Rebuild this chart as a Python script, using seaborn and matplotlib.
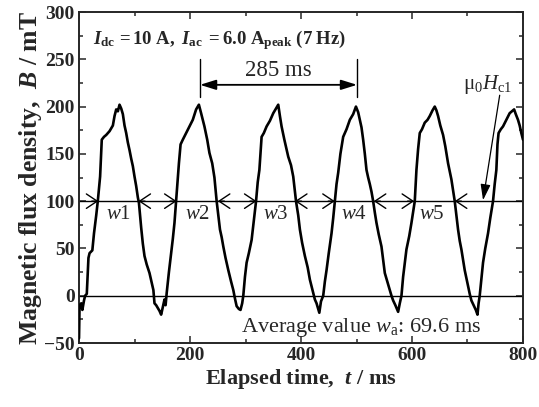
import numpy as np
import pandas as pd
import matplotlib
matplotlib.use("Agg")
import matplotlib.pyplot as plt
import seaborn as sns
from matplotlib.ticker import MultipleLocator

# --- waveform (t in ms, B in mT) ---
t_ms = [0, 1, 4, 6, 9, 11, 14, 17, 19, 24, 27, 31, 34, 38, 41, 45, 49, 55, 61, 64, 67, 70, 73, 76, 79,
        82, 85, 88, 91, 94, 97, 100, 103, 106, 108, 112, 115, 118, 122, 127, 131, 134, 136, 139, 142,
        145, 148, 151, 154, 156, 158, 162, 166, 169, 172, 175, 178, 180, 183, 187, 193, 199, 205, 211,
        216, 220, 226, 231, 235, 240, 244, 248, 251, 254, 257, 260, 264, 269, 274, 278, 281, 284, 288,
        291, 294, 296, 299, 302, 306, 311, 315, 319, 322, 325, 327, 329, 333, 338, 344, 350, 355, 359,
        362, 365, 370, 377, 382, 386, 391, 395, 398, 402, 407, 412, 416, 422, 425, 428, 431, 433, 436,
        440, 443, 446, 450, 455, 458, 461, 464, 467, 471, 476, 482, 488, 494, 499, 503, 506, 509, 512,
        515, 518, 521, 524, 527, 530, 533, 536, 540, 545, 548, 551, 556, 560, 563, 566, 570, 575, 578,
        581, 584, 587, 590, 595, 599, 605, 608, 611, 614, 618, 623, 628, 632, 637, 641, 644, 647, 651,
        656, 660, 665, 671, 677, 680, 683, 686, 689, 692, 695, 701, 704, 707, 711, 715, 718, 720, 722,
        725, 728, 732, 737, 741, 746, 749, 752, 754, 756, 760, 764, 770, 776, 780, 784, 787, 791, 794,
        797, 800]
b_mT = [-45, -10, -8, -15, -5, 0, 2, 40, 45, 48, 66, 85, 101, 126, 165, 168, 170, 174, 180, 190, 197,
        195, 202, 198, 192, 180, 172, 162, 154, 145, 137, 126, 116, 104, 98, 72, 55, 42, 33, 24, 14, 6,
        -8, -10, -13, -16, -20, -12, -4, -10, 3, 25, 45, 60, 77, 101, 125, 140, 160, 165, 172, 179, 186,
        197, 202, 193, 179, 165, 151, 140, 125, 100, 85, 70, 62, 52, 40, 27, 15, 6, -3, -11, -14, -15,
        -8, 0, 20, 35, 45, 59, 80, 100, 120, 133, 150, 168, 172, 179, 185, 193, 198, 202, 190, 179, 165,
        147, 138, 126, 100, 85, 70, 56, 42, 30, 17, 3, -4, -8, -14, -18, -6, 0, 15, 27, 45, 66, 82, 100,
        118, 130, 150, 168, 176, 186, 192, 200, 194, 186, 178, 165, 150, 133, 125, 118, 110, 100, 88,
        77, 65, 52, 38, 24, 14, 6, 0, -5, -10, -17, -8, 0, 20, 35, 49, 63, 77, 100, 133, 155, 172, 176,
        183, 186, 190, 196, 200, 196, 190, 180, 170, 158, 140, 123, 100, 85, 70, 58, 49, 38, 27, 10, 2,
        -5, -10, -15, -20, -8, 0, 18, 35, 50, 66, 82, 100, 118, 133, 160, 172, 176, 179, 186, 193, 195,
        197, 192, 186, 180, 172, 165]

# threshold crossings (ms) and labels
rise_ms = [35, 176, 320, 461, 604]
fall_ms = [107, 250, 389, 531, 677]
w_labels = ["1", "2", "3", "4", "5"]
w_pos_ms = [71, 213, 354, 496, 636]

period_start, period_end = 218, 501

df = pd.DataFrame({"t": t_ms, "B": b_mT})

sns.set_style("ticks")
plt.rcParams["font.family"] = ["Liberation Serif", "DejaVu Serif"]
plt.rcParams["mathtext.fontset"] = "custom"
plt.rcParams["mathtext.rm"] = "Liberation Serif"
plt.rcParams["mathtext.it"] = "Liberation Serif:italic"
plt.rcParams["mathtext.bf"] = "Liberation Serif:bold"
plt.rcParams["mathtext.bfit"] = "Liberation Serif:bold:italic"

fig = plt.figure(figsize=(5.39, 4.07), dpi=100)
ax = fig.add_axes([0.1466, 0.1572, 0.8237, 0.8133])

ax.axhline(100, color="black", lw=1.0, zorder=1)
ax.axhline(0, color="black", lw=1.0, zorder=1)
sns.lineplot(data=df, x="t", y="B", ax=ax, color="black", lw=1.9, zorder=3)

# crossing arrowheads
arr = dict(arrowstyle="->,head_length=0.6,head_width=0.4", color="black", lw=1.0,
           mutation_scale=13, shrinkA=0, shrinkB=0)
for tr in rise_ms:
    ax.annotate("", xy=(tr, 100), xytext=(tr - 12, 100), arrowprops=arr)
for tf in fall_ms:
    ax.annotate("", xy=(tf, 100), xytext=(tf + 12, 100), arrowprops=arr)
for lab, tp in zip(w_labels, w_pos_ms):
    ax.text(tp, 86, r"$w$" + lab, ha="center", va="center", fontsize=15)

# period marker
ax.plot([period_start, period_start], [210, 250], color="black", lw=1.0)
ax.plot([period_end, period_end], [210, 250], color="black", lw=1.0)
ax.annotate("", xy=(period_start, 223), xytext=(period_end, 223),
            arrowprops=dict(arrowstyle="<|-|>,head_length=0.8,head_width=0.25", color="black",
                            lw=1.3, mutation_scale=12, shrinkA=0, shrinkB=0))
ax.text((period_start + period_end) / 2, 238, "285 ms", ha="center", va="center", fontsize=16.5)

ax.text(25, 270, r"$\mathbfit{I}_{\mathbf{dc}}\mathbf{\,=10\ A,\ }\mathbfit{I}_{\mathbf{ac}}"
        r"\mathbf{\ =6.0\ A}_{\mathbf{peak}}\mathbf{\ (7\ Hz)}$",
        ha="left", va="center", fontsize=13.5)

ax.text(737, 223, r"$\mathrm{\mu}_0H_{\mathrm{c}1}$", ha="center", va="center", fontsize=15)
ax.annotate("", xy=(728, 101), xytext=(758, 212),
            arrowprops=dict(arrowstyle="-|>,head_length=0.8,head_width=0.25", color="black",
                            lw=0.9, mutation_scale=12, shrinkA=0, shrinkB=0))

ax.text(509, -34, r"Average value $w_{\mathrm{a}}$: 69.6 ms", ha="center", va="center", fontsize=16)

ax.set_xlim(0, 800)
ax.set_ylim(-50, 300)
ax.xaxis.set_major_locator(MultipleLocator(200))
ax.xaxis.set_minor_locator(MultipleLocator(100))
ax.yaxis.set_major_locator(MultipleLocator(50))
ax.yaxis.set_minor_locator(MultipleLocator(25))
ax.tick_params(which="both", direction="in", top=True, right=True, width=1.1)
ax.tick_params(which="major", length=5, labelsize=14, pad=3)
ax.tick_params(which="minor", length=3)
for lbl in ax.get_xticklabels() + ax.get_yticklabels():
    lbl.set_fontweight("bold")
for sp in ax.spines.values():
    sp.set_linewidth(1.4)
    sp.set_visible(True)

ax.set_xlabel(r"Elapsed time,  $\mathbfit{t}$ / ms", fontsize=16, fontweight="bold", labelpad=2)
ax.set_ylabel(r"Magnetic flux density,  $\mathbfit{B}$ / mT", fontsize=18.5, fontweight="bold",
              labelpad=0)

fig.savefig("out.png", dpi=100)
